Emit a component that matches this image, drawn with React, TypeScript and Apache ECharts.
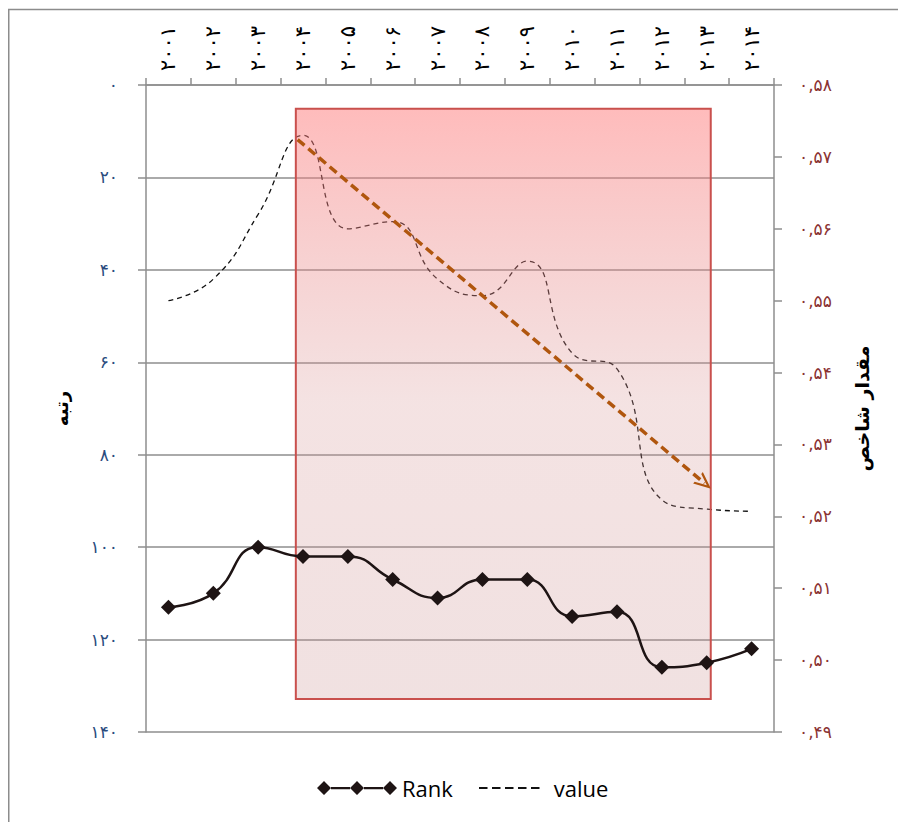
import React, { useEffect, useRef } from 'react';
import * as echarts from 'echarts';

const years = ['2001', '2002', '2003', '2004', '2005', '2006', '2007', '2008', '2009', '2010', '2011', '2012', '2013', '2014'];
const rankValues = [113, 110, 100, 102, 102, 107, 111, 107, 107, 115, 114, 126, 125, 122];
const indexValues = [0.55, 0.553, 0.562, 0.573, 0.56, 0.561, 0.553, 0.5507, 0.5555, 0.5427, 0.5405, 0.5223, 0.521, 0.5207];
const rankTicks = { min: 0, max: 140, interval: 20 };
const indexTicks = { min: 0.49, max: 0.58, interval: 0.01 };
// highlighted period (fractional year index, index value)
const highlightFrom = [2.84, 0.5767];
const highlightTo = [12.09, 0.4946];
// trend arrow (fractional year index, index value)
const trendFrom = [2.88, 0.5724];
const trendTo = [11.95, 0.5246];

const faDigits = ['۰', '۱', '۲', '۳', '۴', '۵', '۶', '۷', '۸', '۹'];
const toFa = (s: string) => s.replace(/[0-9]/g, (d) => faDigits[Number(d)]);

const rankIcon =
  'path://M0 7L7 0L14 7L7 14Z M33 7L40 0L47 7L40 14Z M66 7L73 0L80 7L73 14Z M14 6L33 6L33 8.2L14 8.2Z M47 6L66 6L66 8.2L47 8.2Z';
const dashIcon = 'path://M0 0H8.5V2H0Z M13 0H21.5V2H13Z M26 0H34.5V2H26Z M39 0H47.5V2H39Z M52 0H60.5V2H52Z';

const gridColor = '#8E8E8E';

export default function App() {
  const ref = useRef<HTMLDivElement>(null);
  useEffect(() => {
    document.body.style.overflow = 'hidden';
    const chart = echarts.init(ref.current!, null, { renderer: 'svg' });
    chart.setOption({
      animation: false,
      backgroundColor: '#ffffff',
      grid: { left: 138, right: 124, top: 77, bottom: 90, containLabel: false },
      graphic: [
        {
          type: 'rect',
          shape: { x: 0.75, y: 1.5, width: 1200, height: 1200 },
          style: { fill: 'none', stroke: '#8C8C8C', lineWidth: 1.5 },
          silent: true,
        },
      ],
      legend: [
        {
          data: [{ name: 'Rank', icon: rankIcon }],
          left: 304,
          top: 764,
          itemWidth: 80,
          itemHeight: 14,
          itemStyle: { borderWidth: 0 },
          textStyle: { fontFamily: 'Open Sans', fontSize: 22, color: '#000' },
        },
        {
          data: [{ name: 'value', icon: dashIcon }],
          left: 466,
          top: 764,
          itemWidth: 61,
          itemHeight: 2,
          itemStyle: { borderWidth: 0 },
          textStyle: { fontFamily: 'Open Sans', fontSize: 22, color: '#000', padding: [0, 0, 0, 9] },
        },
      ],
      xAxis: [
        {
          type: 'category',
          position: 'top',
          data: years,
          boundaryGap: true,
          axisLine: { show: true, lineStyle: { color: gridColor, width: 1.5 } },
          axisTick: { show: true, length: 7, lineStyle: { color: gridColor, width: 1.5 } },
          axisLabel: {
            rotate: 90,
            margin: 14,
            fontFamily: 'DejaVu Sans',
            fontSize: 21,
            color: '#000',
            formatter: (v: string) => toFa(v),
          },
          splitLine: { show: false },
        },
        {
          type: 'value',
          show: false,
          min: -0.5,
          max: years.length - 0.5,
        },
      ],
      yAxis: [
        {
          type: 'value',
          inverse: true,
          min: rankTicks.min,
          max: rankTicks.max,
          interval: rankTicks.interval,
          name: 'رتبه',
          nameLocation: 'middle',
          nameGap: 76,
          nameRotate: 90,
          nameTextStyle: { fontFamily: 'DejaVu Sans', fontWeight: 'bold', fontSize: 18, color: '#000' },
          axisLine: { show: true, onZero: false, lineStyle: { color: gridColor, width: 1.5 } },
          axisTick: { show: true, length: 8, lineStyle: { color: gridColor, width: 1.5 } },
          axisLabel: {
            margin: 28,
            fontFamily: 'DejaVu Sans',
            fontSize: 17,
            color: '#2B4C7E',
            formatter: (v: number) => toFa(String(v)),
          },
          splitLine: { show: true, lineStyle: { color: gridColor, width: 1.5 } },
        },
        {
          type: 'value',
          min: indexTicks.min,
          max: indexTicks.max,
          interval: indexTicks.interval,
          name: 'مقدار شاخص',
          nameLocation: 'middle',
          nameGap: 78,
          nameRotate: 90,
          nameTextStyle: { fontFamily: 'DejaVu Sans', fontWeight: 'bold', fontSize: 19, color: '#000' },
          axisLine: { show: true, onZero: false, lineStyle: { color: gridColor, width: 1.5 } },
          axisTick: { show: true, length: 8, lineStyle: { color: gridColor, width: 1.5 } },
          axisLabel: {
            margin: 25,
            fontFamily: 'DejaVu Sans',
            fontSize: 17,
            color: '#8B3333',
            formatter: (v: number) => toFa(v.toFixed(2)).replace('.', ','),
          },
          splitLine: { show: false },
        },
      ],
      series: [
        {
          name: 'value',
          type: 'line',
          xAxisIndex: 0,
          yAxisIndex: 1,
          data: indexValues,
          smooth: 0.5,
          symbol: 'none',
          showSymbol: false,
          z: 2,
          itemStyle: { color: '#111111' },
          lineStyle: { color: '#111111', width: 1.3, type: [5, 4] },
        },
        {
          name: 'highlight',
          type: 'line',
          xAxisIndex: 1,
          yAxisIndex: 1,
          data: [],
          z: 4,
          markArea: {
            silent: true,
            z: 4,
            itemStyle: {
              color: new echarts.graphic.LinearGradient(0, 0, 0, 1, [
                { offset: 0, color: 'rgba(255,120,120,0.5)' },
                { offset: 0.5, color: 'rgba(215,150,150,0.27)' },
                { offset: 1, color: 'rgba(200,140,140,0.26)' },
              ]),
              borderColor: '#C9504D',
              borderWidth: 2,
            },
            label: { show: false },
            data: [[{ coord: highlightFrom }, { coord: highlightTo }]],
          },
          markLine: {
            silent: true,
            z: 6,
            symbol: ['none', 'path://M5,0 L10,10 L8.4,10 L5,3.2 L1.6,10 L0,10 Z'],
            symbolSize: [15, 17],
            label: { show: false },
            lineStyle: { color: '#B0560E', width: 3.5, type: [9, 5] },
            data: [[{ coord: trendFrom }, { coord: trendTo }]],
          },
        },
        {
          name: 'Rank',
          type: 'line',
          xAxisIndex: 0,
          yAxisIndex: 0,
          data: rankValues,
          smooth: 0.5,
          symbol: 'diamond',
          symbolSize: 15,
          z: 10,
          itemStyle: { color: '#1E1414' },
          lineStyle: { color: '#1E1414', width: 2.5 },
        },
      ],
    });
    return () => chart.dispose();
  }, []);
  return <div ref={ref} style={{ width: 890, height: 814 }} />;
}
